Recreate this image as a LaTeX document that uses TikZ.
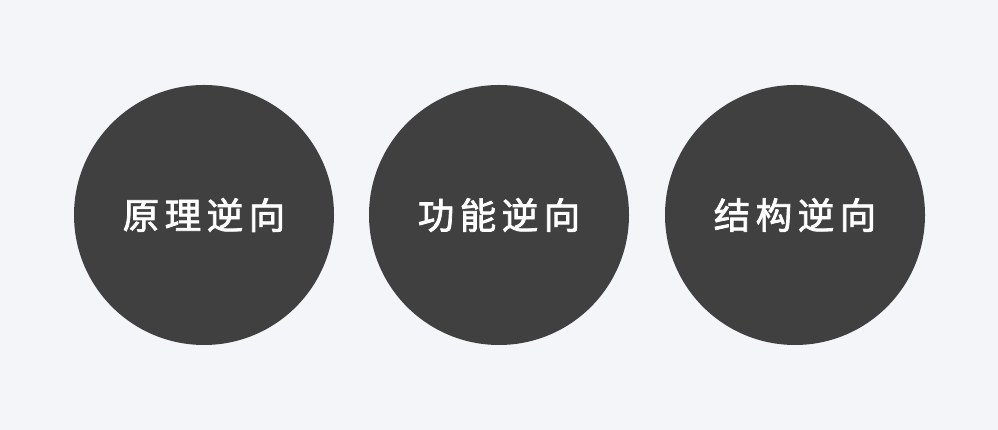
\documentclass[tikz,border=0pt]{standalone}
\usepackage{fontspec}
\usepackage{tikz}
\newfontfamily\cjk[LetterSpace=15, FakeBold=2]{Noto Sans CJK SC}
\definecolor{bgpaper}{HTML}{F4F5F9}
\definecolor{discdark}{HTML}{404040}
\tikzset{
    disc/.style={circle, fill=discdark, minimum size=260pt, inner sep=0pt,
        text=white, font=\cjk\fontsize{36.5pt}{40pt}\selectfont}
}

\begin{document}
\begin{tikzpicture}[x=1pt, y=1pt]
    \fill[bgpaper] (0,0) rectangle (998,430);
    \useasboundingbox (0,0) rectangle (998,430);
    \node[disc] (principle) at (204,215) {原理逆向};
    \node[disc] (function) at (499,215) {功能逆向};
    \node[disc] (structure) at (795,215) {结构逆向};
\end{tikzpicture}
\end{document}
